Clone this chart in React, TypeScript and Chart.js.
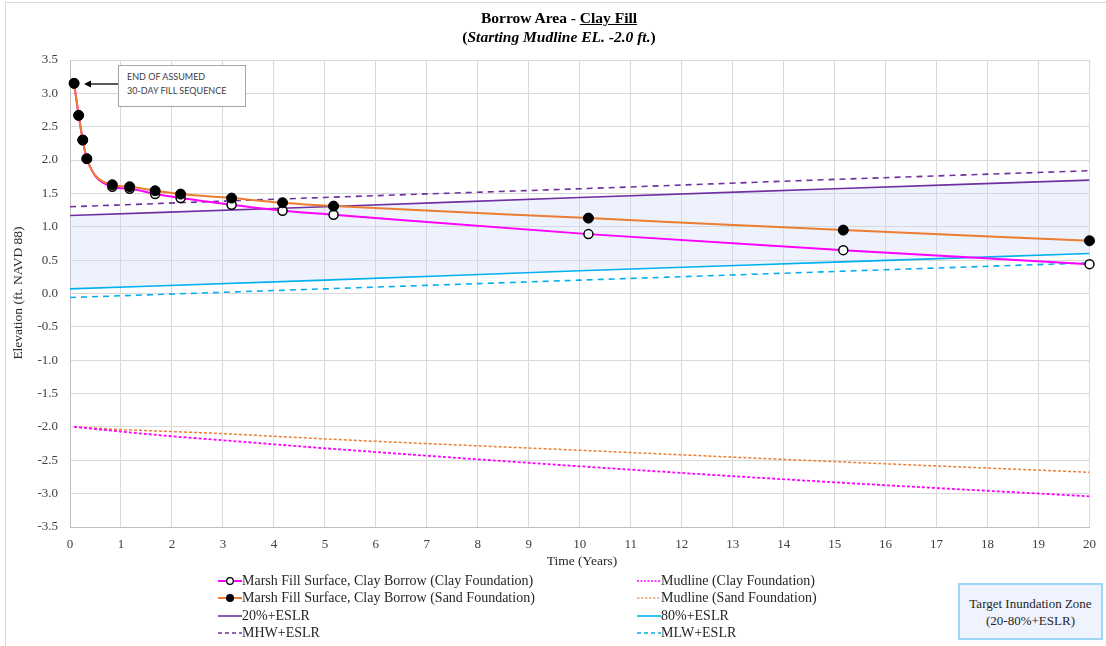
import React, { useEffect, useRef } from "react";
import { Chart, registerables } from "chart.js";
Chart.register(...registerables);

// ---- data ----
const marshYears = [0.08, 0.17, 0.25, 0.33, 0.83, 1.17, 1.67, 2.17, 3.17, 4.17, 5.17, 10.17, 15.17, 20];
const marshSand = [3.15, 2.67, 2.3, 2.02, 1.63, 1.6, 1.54, 1.49, 1.43, 1.36, 1.31, 1.13, 0.95, 0.79];
const marshClay = [3.15, 2.67, 2.3, 2.02, 1.6, 1.57, 1.49, 1.43, 1.33, 1.24, 1.18, 0.89, 0.65, 0.44];

const mudYears = [0.08, 1, 2, 3, 4, 5, 10, 15, 20];
const mudClay = [-2.0, -2.07, -2.14, -2.2, -2.26, -2.32, -2.59, -2.83, -3.04];
const mudSand = [-2.0, -2.04, -2.07, -2.1, -2.14, -2.18, -2.35, -2.52, -2.68];

const eslrYears = [0, 5, 10, 15, 20];
const p20Eslr = [1.17, 1.3, 1.44, 1.57, 1.7];
const p80Eslr = [0.07, 0.2, 0.34, 0.47, 0.6];
const mhwEslr = [1.3, 1.44, 1.57, 1.71, 1.84];
const mlwEslr = [-0.06, 0.07, 0.2, 0.33, 0.46];

const xTicks = { min: 0, max: 20, step: 1 };
const yTicks = { min: -3.5, max: 3.5, step: 0.5 };

const labels = {
  clay: "Marsh Fill Surface, Clay Borrow (Clay Foundation)",
  sand: "Marsh Fill Surface, Clay Borrow (Sand Foundation)",
  p20: "20%+ESLR",
  mhw: "MHW+ESLR",
  mudClay: "Mudline (Clay Foundation)",
  mudSand: "Mudline (Sand Foundation)",
  p80: "80%+ESLR",
  mlw: "MLW+ESLR",
};

const C = {
  orange: "#ed7d31",
  magenta: "#ff00ff",
  purple: "#7030a0",
  blue: "#00b0f0",
};

const pts = (xs: number[], ys: number[]) => xs.map((x, i) => ({ x, y: ys[i] }));

type Sw = { color: string; dash?: string; marker?: "open" | "filled"; width?: number };

function Swatch({ s }: { s: Sw }) {
  return (
    <svg width={24} height={12} style={{ display: "block", flex: "none" }}>
      <line x1={0} y1={6} x2={24} y2={6} stroke={s.color} strokeWidth={s.width ?? 2} strokeDasharray={s.dash} />
      {s.marker === "open" && <circle cx={12} cy={6} r={3.3} fill="#fff" stroke="#000" strokeWidth={1.3} />}
      {s.marker === "filled" && <circle cx={12} cy={6} r={4} fill="#000" />}
    </svg>
  );
}

const legendItems: { label: string; s: Sw; x: number; y: number }[] = [
  { label: labels.clay, s: { color: C.magenta, marker: "open" }, x: 218, y: 581 },
  { label: labels.sand, s: { color: C.orange, marker: "filled" }, x: 218, y: 598 },
  { label: labels.p20, s: { color: C.purple, width: 1.6 }, x: 218, y: 616 },
  { label: labels.mhw, s: { color: C.purple, dash: "4 3", width: 1.6 }, x: 218, y: 633 },
  { label: labels.mudClay, s: { color: C.magenta, dash: "2 1.5", width: 1.6 }, x: 637, y: 581 },
  { label: labels.mudSand, s: { color: C.orange, dash: "2.5 1.5", width: 1.2 }, x: 637, y: 598 },
  { label: labels.p80, s: { color: C.blue, width: 1.6 }, x: 637, y: 616 },
  { label: labels.mlw, s: { color: C.blue, dash: "4 3", width: 1.6 }, x: 637, y: 633 },
];

export default function App() {
  const ref = useRef<HTMLCanvasElement>(null);

  useEffect(() => {
    const chart = new Chart(ref.current!, {
      type: "line",
      data: {
        datasets: [
          {
            label: labels.sand,
            data: pts(marshYears, marshSand),
            borderColor: C.orange,
            borderWidth: 2,
            pointRadius: 5,
            pointBackgroundColor: "#000",
            pointBorderColor: "#000",
            pointBorderWidth: 1,
            cubicInterpolationMode: "monotone",
            fill: false,
            clip: false,
          },
          {
            label: labels.clay,
            data: pts(marshYears, marshClay),
            borderColor: C.magenta,
            borderWidth: 2,
            pointRadius: 4.5,
            pointBackgroundColor: "#fff",
            pointBorderColor: "#000",
            pointBorderWidth: 1.5,
            cubicInterpolationMode: "monotone",
            fill: false,
            clip: false,
          },
          {
            label: labels.mudClay,
            data: pts(mudYears, mudClay),
            borderColor: C.magenta,
            borderWidth: 1.8,
            borderDash: [3, 2],
            pointRadius: 0,
            cubicInterpolationMode: "monotone",
            fill: false,
          },
          {
            label: labels.mudSand,
            data: pts(mudYears, mudSand),
            borderColor: C.orange,
            borderWidth: 1.5,
            borderDash: [3, 2],
            pointRadius: 0,
            cubicInterpolationMode: "monotone",
            fill: false,
          },
          {
            label: labels.p20,
            data: pts(eslrYears, p20Eslr),
            borderColor: C.purple,
            borderWidth: 1.6,
            pointRadius: 0,
            fill: { target: 5 },
            backgroundColor: "rgba(200,215,248,0.33)",
            cubicInterpolationMode: "monotone",
          },
          {
            label: labels.p80,
            data: pts(eslrYears, p80Eslr),
            borderColor: C.blue,
            borderWidth: 1.6,
            pointRadius: 0,
            fill: false,
            cubicInterpolationMode: "monotone",
          },
          {
            label: labels.mhw,
            data: pts(eslrYears, mhwEslr),
            borderColor: C.purple,
            borderWidth: 1.6,
            borderDash: [6, 5],
            pointRadius: 0,
            fill: false,
            cubicInterpolationMode: "monotone",
          },
          {
            label: labels.mlw,
            data: pts(eslrYears, mlwEslr),
            borderColor: C.blue,
            borderWidth: 1.6,
            borderDash: [6, 5],
            pointRadius: 0,
            fill: false,
            cubicInterpolationMode: "monotone",
          },
        ],
      },
      options: {
        responsive: false,
        animation: false,
        devicePixelRatio: 1,
        layout: { padding: { left: 0, top: 60, right: 12, bottom: 0 } },
        plugins: {
          legend: { display: false },
          title: { display: false },
          tooltip: { enabled: false },
          filler: { drawTime: "beforeDatasetsDraw" },
        } as any,
        scales: {
          x: {
            type: "linear",
            min: xTicks.min,
            max: xTicks.max,
            ticks: {
              stepSize: xTicks.step,
              padding: 10,
              color: "#404040",
              font: { family: '"Liberation Serif", serif', size: 13 },
            },
            grid: { color: "#d9d9d9", lineWidth: 1, drawTicks: false },
            border: { color: "#bfbfbf", width: 1 },
            afterFit: (s: any) => {
              s.height = 119;
            },
          },
          y: {
            type: "linear",
            min: yTicks.min,
            max: yTicks.max,
            ticks: {
              stepSize: yTicks.step,
              padding: 12,
              color: "#404040",
              font: { family: '"Liberation Serif", serif', size: 13 },
              callback: (v: any) => Number(v).toFixed(1),
            },
            grid: { color: "#d9d9d9", lineWidth: 1, drawTicks: false },
            border: { color: "#bfbfbf", width: 1 },
            afterFit: (s: any) => {
              s.width = 70;
            },
          },
        },
      } as any,
    });
    return () => chart.destroy();
  }, []);

  const serif = '"Liberation Serif", "Times New Roman", serif';

  return (
    <div
      style={{
        position: "absolute",
        left: 0,
        top: 0,
        width: 1106,
        height: 646,
        background: "#fff",
        overflow: "hidden",
        fontFamily: serif,
        color: "#262626",
      }}
    >
      <div
        style={{
          position: "absolute",
          left: 5,
          top: 2,
          width: 1110,
          height: 660,
          border: "1px solid #d9d9d9",
        }}
      />
      <canvas ref={ref} width={1106} height={646} style={{ position: "absolute", left: 0, top: 0 }} />

      {/* title */}
      <div
        style={{
          position: "absolute",
          left: 0,
          top: 8,
          width: 1118,
          textAlign: "center",
          fontSize: 15.5,
          lineHeight: "19px",
          fontWeight: "bold",
          color: "#000",
        }}
      >
        <div>
          Borrow Area - <span style={{ textDecoration: "underline" }}>Clay Fill</span>
        </div>
        <div>
          (<span style={{ fontStyle: "italic" }}>Starting Mudline EL. -2.0 ft.</span>)
        </div>
      </div>

      {/* axis titles */}
      <div
        style={{
          position: "absolute",
          left: 0,
          top: 552,
          width: 1164,
          textAlign: "center",
          fontSize: 13.5,
          lineHeight: "17px",
          color: "#262626",
        }}
      >
        Time (Years)
      </div>
      <div
        style={{
          position: "absolute",
          left: 18 - 100,
          top: 293 - 8,
          width: 200,
          height: 16,
          textAlign: "center",
          fontSize: 13.5,
          lineHeight: "16px",
          transform: "rotate(-90deg)",
          color: "#262626",
        }}
      >
        Elevation (ft. NAVD 88)
      </div>

      {/* callout */}
      <svg width={40} height={12} style={{ position: "absolute", left: 80, top: 78 }}>
        <line x1={38} y1={6} x2={8} y2={6} stroke="#000" strokeWidth={1.3} />
        <polygon points="4,6 11,2.5 11,9.5" fill="#000" />
      </svg>
      <div
        style={{
          position: "absolute",
          left: 118,
          top: 65,
          width: 128,
          height: 42,
          border: "1px solid #a6a6a6",
          background: "#fff",
          fontFamily: 'Lato, "Liberation Sans", sans-serif',
          fontSize: 9,
          lineHeight: "14px",
          color: "#404040",
          paddingLeft: 8,
          paddingTop: 4,
          boxSizing: "border-box",
        }}
      >
        <div>END OF ASSUMED</div>
        <div>30-DAY FILL SEQUENCE</div>
      </div>

      {/* legend */}
      {legendItems.map((it, i) => (
        <div
          key={i}
          style={{
            position: "absolute",
            left: it.x,
            top: it.y - 9,
            height: 18,
            display: "flex",
            alignItems: "center",
            fontSize: 14,
            whiteSpace: "nowrap",
            color: "#262626",
          }}
        >
          <Swatch s={it.s} />
          <span style={{ marginLeft: 0 }}>{it.label}</span>
        </div>
      ))}

      {/* target zone box */}
      <div
        style={{
          position: "absolute",
          left: 958,
          top: 583,
          width: 145,
          height: 57,
          border: "2px solid #9dd6f6",
          background: "#eef3fd",
          boxSizing: "border-box",
          display: "flex",
          flexDirection: "column",
          justifyContent: "center",
          alignItems: "center",
          fontSize: 13,
          lineHeight: "17px",
          color: "#262626",
        }}
      >
        <div>Target Inundation Zone</div>
        <div>(20-80%+ESLR)</div>
      </div>
    </div>
  );
}
